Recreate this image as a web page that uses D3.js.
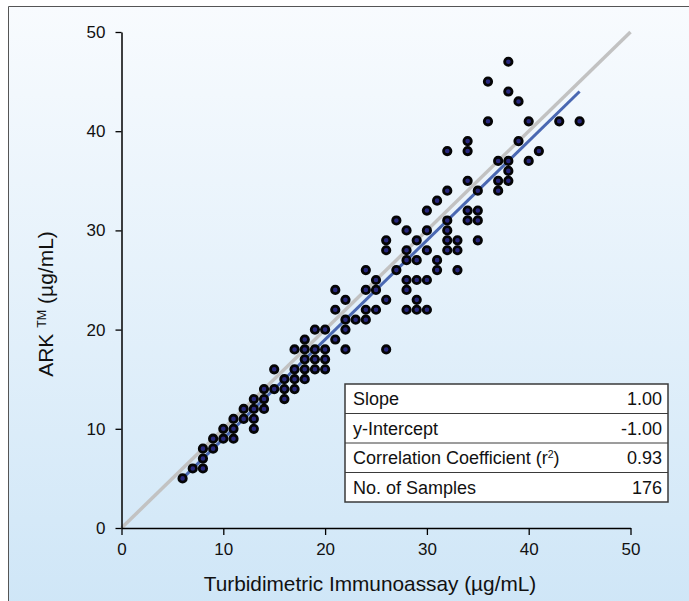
<!DOCTYPE html>
<html>
<head>
<meta charset="utf-8">
<script src="https://cdn.jsdelivr.net/npm/d3@7"></script>
<style>
  html, body { margin: 0; padding: 0; background: #ffffff; }
  svg { display: block; }
  text { font-family: "Liberation Sans", Arial, sans-serif; }
</style>
</head>
<body>
<svg id="chart" width="689" height="601"></svg>
<script>
// ---- Data ----
const sampleX = [6, 7,8, 8, 8,9, 9,10,11, 10,11,13, 11,12,13, 12,13,14, 13,14,16, 14,15,16,17, 16,17,18, 15,17,18,19,20, 18,19,20, 17,18,19,20,22,26, 18,21, 19,20,22, 22,23,24, 21,24,25,28,29,30, 22,26,29, 21,24,25,28, 25,28,29,30, 24,27,31,33, 28,29,31, 26,28,30,32,33, 26,29,32,33,35, 28,30,32, 27,32,34,35, 30,34,35, 31, 32,35,37, 34,37,38, 38, 37,38,40, 32,34,41, 34,39, 36,40,43,45, 39, 38, 36, 38];
const sampleY = [5, 6,6, 7, 8,8, 9,9,9, 10,10,10, 11,11,11, 12,12,12, 13,13,13, 14,14,14,14, 15,15,15, 16,16,16,16,16, 17,17,17, 18,18,18,18,18,18, 19,19, 20,20,20, 21,21,21, 22,22,22,22,22,22, 23,23,23, 24,24,24,24, 25,25,25,25, 26,26,26,26, 27,27,27, 28,28,28,28,28, 29,29,29,29,29, 30,30,30, 31,31,31,31, 32,32,32, 33, 34,34,34, 35,35,35, 36, 37,37,37, 38,38,38, 39,39, 41,41,41,41, 43, 44, 45, 47];
const identityRange = [0, 50];
const regressionSlope = 1.00;
const regressionIntercept = -1.00;
const regressionRange = [6, 45];
const axisTicks = [0, 10, 20, 30, 40, 50];
const statLabels = ["Slope", "y-Intercept", "Correlation Coefficient (r²)", "No. of Samples"];
const statValues = ["1.00", "-1.00", "0.93", "176"];
const xTitle = "Turbidimetric Immunoassay (µg/mL)";

// ---- Drawing ----
const svg = d3.select("#chart");
const W = 689, H = 601;

const defs = svg.append("defs");
const grad = defs.append("linearGradient").attr("id", "bg").attr("x1", 0).attr("y1", 0).attr("x2", 0).attr("y2", 1);
grad.append("stop").attr("offset", "0%").attr("stop-color", "#f8fbfe");
grad.append("stop").attr("offset", "100%").attr("stop-color", "#cfe6f7");

svg.append("rect").attr("x", 8).attr("y", 6).attr("width", W).attr("height", H).attr("fill", "url(#bg)");
svg.append("path").attr("d", `M8.5,${H} L8.5,6.5 L${W},6.5`).attr("fill", "none").attr("stroke", "#555").attr("stroke-width", 1);

const x = d3.scaleLinear().domain([0, 50]).range([121.5, 630.5]);
const y = d3.scaleLinear().domain([0, 50]).range([528, 32]);

// identity line
const line = d3.line().x(d => x(d[0])).y(d => y(d[1]));
svg.append("path")
  .datum(identityRange.map(v => [v, v]))
  .attr("d", line).attr("fill", "none").attr("stroke", "#c2c2c2").attr("stroke-width", 3.5);

// regression line
svg.append("path")
  .datum(regressionRange.map(v => [v, regressionSlope * v + regressionIntercept]))
  .attr("d", line).attr("fill", "none").attr("stroke", "#4a68b2").attr("stroke-width", 3);

// axes
const fontSize = 17;
const yAxis = svg.append("g").attr("transform", `translate(${x(0)},0)`)
  .call(d3.axisLeft(y).tickValues(axisTicks).tickSize(6).tickSizeOuter(0).tickPadding(10));
const xAxis = svg.append("g").attr("transform", `translate(0,${y(0)})`)
  .call(d3.axisBottom(x).tickValues(axisTicks).tickSize(7).tickSizeOuter(0).tickPadding(8));
[xAxis, yAxis].forEach(g => {
  g.selectAll("path.domain").attr("stroke", "#000").attr("stroke-width", 1.5);
  g.selectAll(".tick line").attr("stroke", "#000").attr("stroke-width", 1.3);
  g.selectAll(".tick text").attr("fill", "#111").style("font-size", fontSize + "px")
    .style("font-family", '"Liberation Sans", Arial, sans-serif');
});

// points
svg.append("g").selectAll("circle")
  .data(sampleX.map((v, i) => [v, sampleY[i]]))
  .join("circle")
  .attr("cx", d => x(d[0])).attr("cy", d => y(d[1]))
  .attr("r", 3.7)
  .attr("fill", "#28287e").attr("stroke", "#050505").attr("stroke-width", 2.8);

// axis titles
svg.append("text").attr("x", 370).attr("y", 591).attr("text-anchor", "middle")
  .style("font-size", "20.8px").attr("fill", "#111").text(xTitle);

const yt = svg.append("text").attr("transform", "translate(53,304) rotate(-90)")
  .attr("text-anchor", "middle").style("font-size", "21px").attr("fill", "#111");
yt.append("tspan").text("ARK ");
yt.append("tspan").attr("baseline-shift", "super").style("font-size", "12.5px").text("TM");
yt.append("tspan").text(" (µg/mL)");

// stats table
const tX = 345, tY = 384, tW = 323, rowH = 29.5;
const table = svg.append("g");
table.append("rect").attr("x", tX).attr("y", tY).attr("width", tW).attr("height", rowH * statLabels.length)
  .attr("fill", "#ffffff").attr("stroke", "#3a3a3a").attr("stroke-width", 1.5);
const rows = table.selectAll("g.row").data(statLabels).join("g").attr("class", "row")
  .attr("transform", (d, i) => `translate(${tX},${tY + i * rowH})`);
rows.filter((d, i) => i > 0).append("line").attr("x1", 0).attr("x2", tW).attr("y1", 0).attr("y2", 0)
  .attr("stroke", "#3a3a3a").attr("stroke-width", 1);
rows.each(function(d, i) {
  const g = d3.select(this);
  const t = g.append("text").attr("x", 8).attr("y", rowH / 2 + 6.5).style("font-size", "18px").attr("fill", "#111");
  if (d.includes("²")) {
    const parts = d.split("²");
    t.append("tspan").text(parts[0]);
    t.append("tspan").attr("baseline-shift", "super").style("font-size", "10.5px").text("2");
    t.append("tspan").text(parts[1]);
  } else {
    t.text(d);
  }
  g.append("text").attr("x", tW - 6).attr("y", rowH / 2 + 6.5).attr("text-anchor", "end")
    .style("font-size", "18px").attr("fill", "#111").text(statValues[i]);
});
</script>
</body>
</html>
